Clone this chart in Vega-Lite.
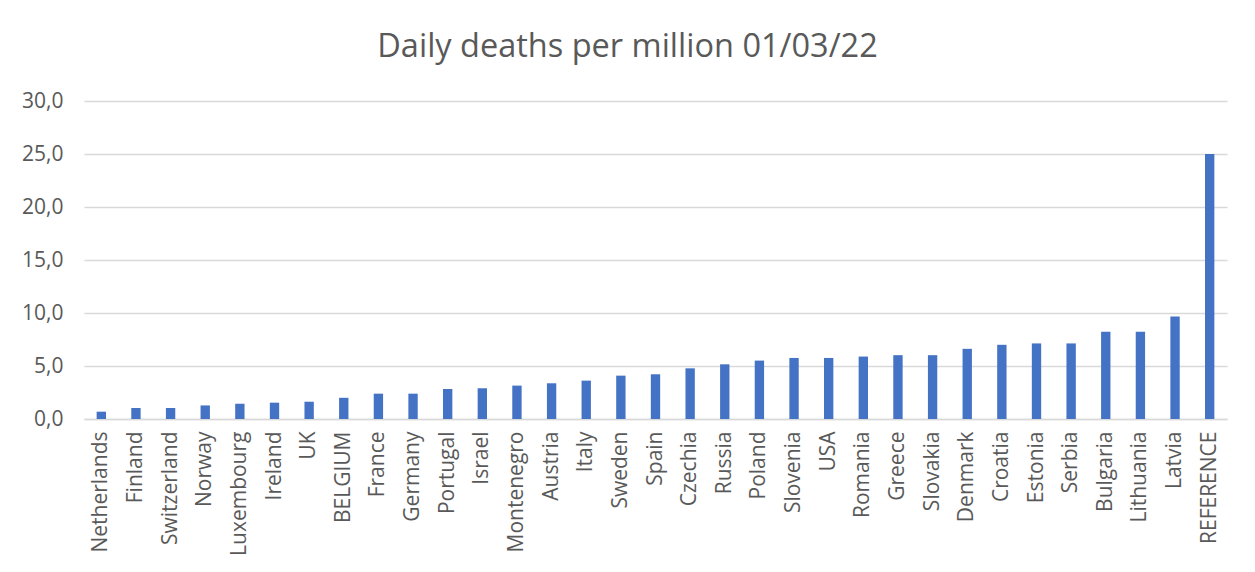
{
  "$schema": "https://vega.github.io/schema/vega-lite/v6.json",
  "width": 1143,
  "height": 318,
  "autosize": "none",
  "padding": {"left": 84, "top": 101, "right": 28, "bottom": 153},
  "background": "white",
  "title": {
    "text": "Daily deaths per million 01/03/22",
    "anchor": "middle",
    "frame": "group",
    "dx": -28,
    "offset": 1,
    "baseline": "alphabetic",
    "font": "Open Sans",
    "fontSize": 32.5,
    "fontWeight": "normal",
    "color": "#595959"
  },
  "data": {
    "values": [
      {"country": "Netherlands", "deaths": 0.69},
      {"country": "Finland", "deaths": 1.04},
      {"country": "Switzerland", "deaths": 1.04},
      {"country": "Norway", "deaths": 1.28},
      {"country": "Luxembourg", "deaths": 1.44},
      {"country": "Ireland", "deaths": 1.54},
      {"country": "UK", "deaths": 1.63},
      {"country": "BELGIUM", "deaths": 2.0},
      {"country": "France", "deaths": 2.39},
      {"country": "Germany", "deaths": 2.39},
      {"country": "Portugal", "deaths": 2.83},
      {"country": "Israel", "deaths": 2.9},
      {"country": "Montenegro", "deaths": 3.15},
      {"country": "Austria", "deaths": 3.37},
      {"country": "Italy", "deaths": 3.62},
      {"country": "Sweden", "deaths": 4.09},
      {"country": "Spain", "deaths": 4.22},
      {"country": "Czechia", "deaths": 4.78},
      {"country": "Russia", "deaths": 5.16},
      {"country": "Poland", "deaths": 5.51},
      {"country": "Slovenia", "deaths": 5.76},
      {"country": "USA", "deaths": 5.76},
      {"country": "Romania", "deaths": 5.89},
      {"country": "Greece", "deaths": 6.02},
      {"country": "Slovakia", "deaths": 6.02},
      {"country": "Denmark", "deaths": 6.62},
      {"country": "Croatia", "deaths": 7.0},
      {"country": "Estonia", "deaths": 7.13},
      {"country": "Serbia", "deaths": 7.13},
      {"country": "Bulgaria", "deaths": 8.22},
      {"country": "Lithuania", "deaths": 8.22},
      {"country": "Latvia", "deaths": 9.68},
      {"country": "REFERENCE", "deaths": 25.0}
    ]
  },
  "mark": {"type": "bar", "color": "#4472C4"},
  "encoding": {
    "x": {
      "field": "country",
      "type": "nominal",
      "sort": null,
      "scale": {"paddingInner": 0.73, "paddingOuter": 0.365},
      "axis": {
        "title": null,
        "labelAngle": -90,
        "labelAlign": "right",
        "labelBaseline": "middle",
        "labelPadding": 12,
        "labelFont": "Open Sans",
        "labelFontSize": 21,
        "labelColor": "#595959",
        "ticks": false,
        "domainColor": "#d9d9d9",
        "domainWidth": 1.5,
        "grid": false
      }
    },
    "y": {
      "field": "deaths",
      "type": "quantitative",
      "scale": {"domain": [0, 30], "nice": false},
      "axis": {
        "title": null,
        "values": [0, 5, 10, 15, 20, 25, 30],
        "labelExpr": "replace(format(datum.value, '.1f'), '.', ',')",
        "labelPadding": 21,
        "labelFont": "Open Sans",
        "labelFontSize": 21,
        "labelColor": "#595959",
        "ticks": false,
        "domain": false,
        "grid": true,
        "gridColor": "#d9d9d9",
        "gridWidth": 1.5
      }
    }
  },
  "config": {"view": {"stroke": null}}
}
